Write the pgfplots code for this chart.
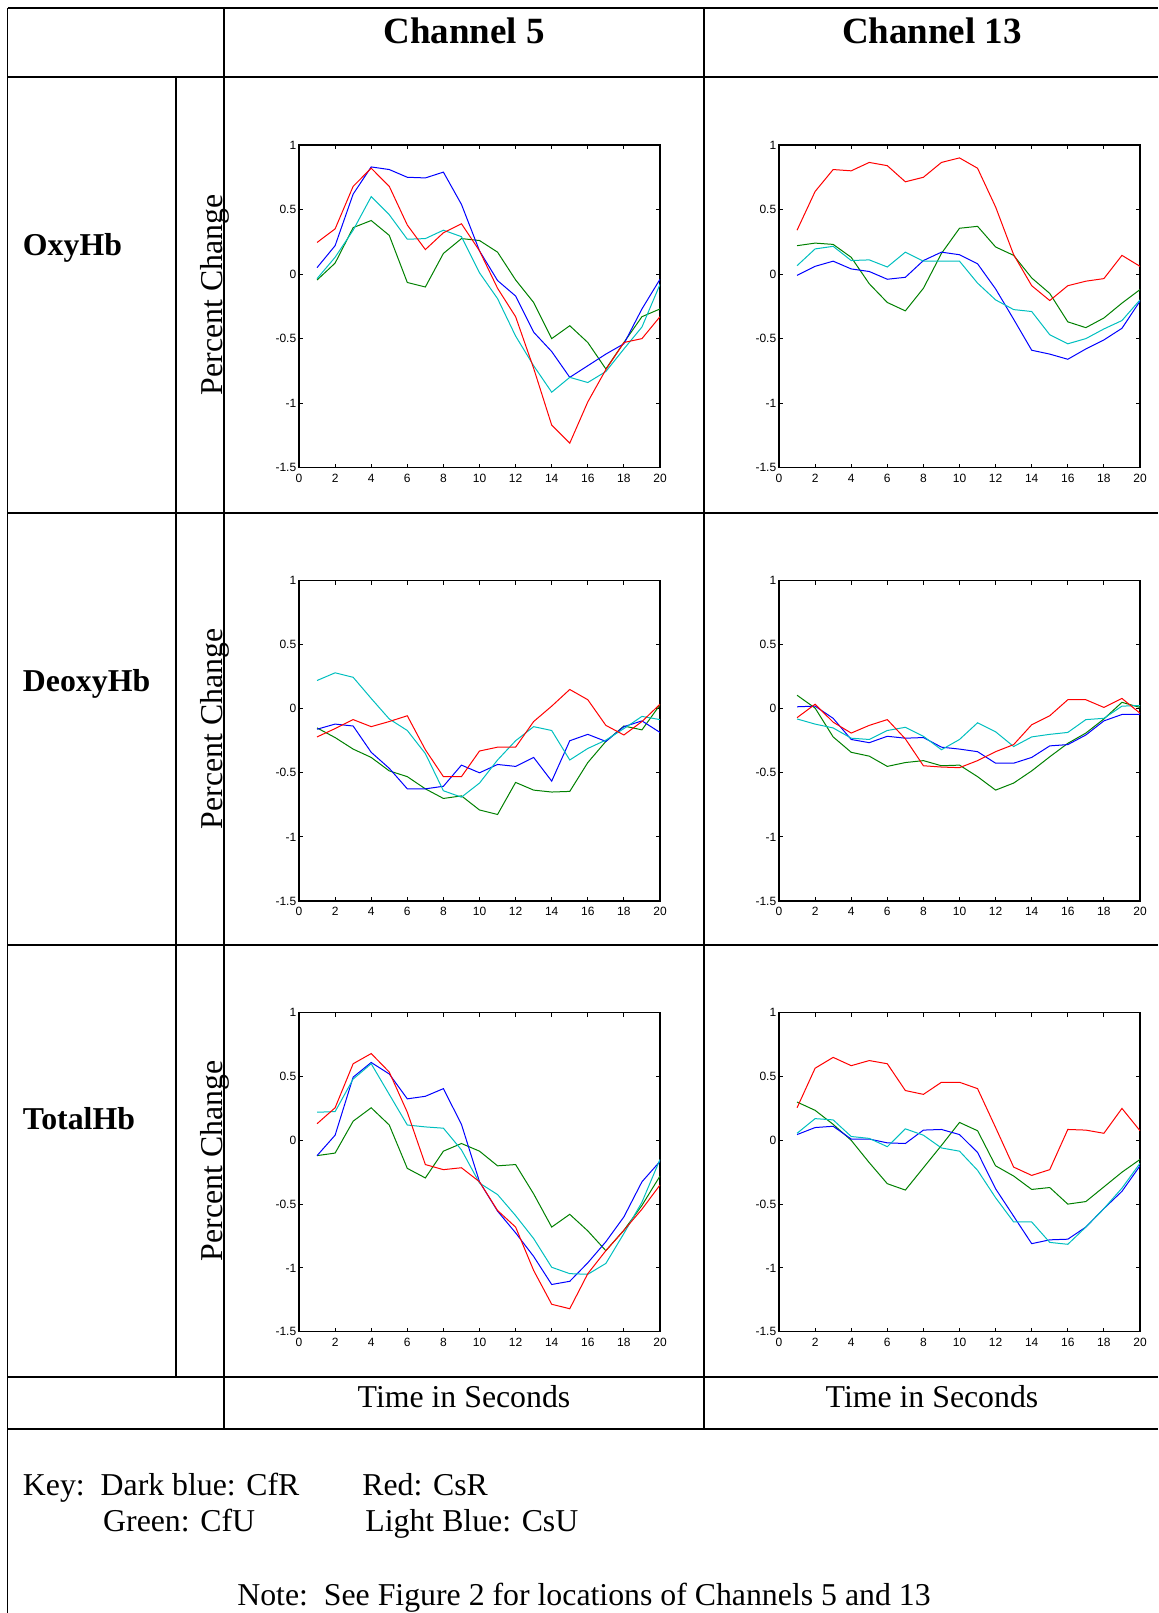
\documentclass[border=0pt]{standalone}
\usepackage{pgfplots}
\pgfplotsset{compat=1.18}
\usepackage{pgfplotstable}
\usepackage{fontspec}
\setmainfont{Liberation Serif}
\newfontfamily\ticksans{Liberation Sans}

\definecolor{mblue}{rgb}{0,0,1}
\definecolor{mred}{rgb}{1,0,0}
\definecolor{mgreen}{rgb}{0,0.5,0}
\definecolor{mcyan}{rgb}{0,0.75,0.75}

% columns: t, B = CfR (dark blue), R = CsR (red), C = CsU (light blue), G = CfU (green)
\pgfplotstableread{
t B R C G
1 0.05 0.245 -0.035 -0.046
2 0.22 0.35 0.13 0.085
3 0.62 0.68 0.34 0.36
4 0.83 0.82 0.60 0.415
5 0.81 0.68 0.46 0.30
6 0.75 0.38 0.27 -0.065
7 0.745 0.19 0.275 -0.10
8 0.79 0.32 0.34 0.16
9 0.54 0.39 0.29 0.275
10 0.18 0.18 0.01 0.26
11 -0.05 -0.11 -0.19 0.17
12 -0.17 -0.33 -0.48 -0.045
13 -0.45 -0.73 -0.71 -0.22
14 -0.60 -1.17 -0.915 -0.50
15 -0.80 -1.31 -0.80 -0.40
16 -0.71 -0.99 -0.84 -0.53
17 -0.62 -0.74 -0.755 -0.735
18 -0.54 -0.53 -0.58 -0.53
19 -0.27 -0.50 -0.41 -0.33
20 -0.04 -0.33 -0.08 -0.27
}\oxyA
\pgfplotstableread{
t B R C G
1 -0.01 0.34 0.065 0.22
2 0.06 0.64 0.195 0.24
3 0.10 0.81 0.215 0.23
4 0.04 0.80 0.105 0.13
5 0.02 0.865 0.11 -0.075
6 -0.04 0.84 0.055 -0.22
7 -0.025 0.715 0.17 -0.285
8 0.105 0.75 0.10 -0.11
9 0.17 0.865 0.10 0.16
10 0.15 0.90 0.10 0.355
11 0.08 0.82 -0.07 0.37
12 -0.115 0.52 -0.20 0.21
13 -0.35 0.15 -0.275 0.145
14 -0.59 -0.09 -0.29 -0.03
15 -0.62 -0.205 -0.47 -0.15
16 -0.66 -0.09 -0.54 -0.37
17 -0.58 -0.055 -0.50 -0.415
18 -0.51 -0.035 -0.425 -0.34
19 -0.42 0.145 -0.36 -0.225
20 -0.21 0.06 -0.20 -0.12
}\oxyB
\pgfplotstableread{
t B R C G
1 -0.16 -0.22 0.22 -0.15
2 -0.12 -0.155 0.28 -0.225
3 -0.135 -0.085 0.245 -0.315
4 -0.34 -0.14 0.08 -0.38
5 -0.465 -0.10 -0.08 -0.485
6 -0.625 -0.055 -0.17 -0.53
7 -0.625 -0.32 -0.35 -0.625
8 -0.605 -0.53 -0.64 -0.70
9 -0.44 -0.53 -0.69 -0.68
10 -0.50 -0.33 -0.58 -0.79
11 -0.435 -0.30 -0.40 -0.825
12 -0.45 -0.30 -0.25 -0.575
13 -0.38 -0.10 -0.14 -0.635
14 -0.565 0.02 -0.17 -0.65
15 -0.25 0.15 -0.40 -0.645
16 -0.20 0.07 -0.31 -0.42
17 -0.255 -0.13 -0.245 -0.255
18 -0.14 -0.205 -0.155 -0.135
19 -0.095 -0.10 -0.06 -0.165
20 -0.185 0.035 -0.085 0.03
}\deoA
\pgfplotstableread{
t B R C G
1 0.015 -0.07 -0.08 0.105
2 0.02 0.035 -0.12 0.005
3 -0.075 -0.105 -0.15 -0.22
4 -0.24 -0.19 -0.23 -0.34
5 -0.265 -0.13 -0.24 -0.37
6 -0.215 -0.085 -0.17 -0.45
7 -0.23 -0.235 -0.145 -0.42
8 -0.225 -0.445 -0.215 -0.405
9 -0.30 -0.455 -0.32 -0.445
10 -0.315 -0.46 -0.24 -0.44
11 -0.335 -0.405 -0.11 -0.53
12 -0.425 -0.335 -0.18 -0.635
13 -0.425 -0.28 -0.295 -0.58
14 -0.38 -0.125 -0.22 -0.485
15 -0.29 -0.055 -0.20 -0.375
16 -0.28 0.07 -0.185 -0.27
17 -0.205 0.07 -0.085 -0.19
18 -0.095 0.01 -0.075 -0.08
19 -0.045 0.08 0.02 0.05
20 -0.045 -0.035 0.025 0.01
}\deoB
\pgfplotstableread{
t B R C G
1 -0.12 0.13 0.22 -0.12
2 0.04 0.255 0.225 -0.10
3 0.495 0.60 0.48 0.15
4 0.61 0.68 0.60 0.255
5 0.52 0.535 0.36 0.12
6 0.325 0.22 0.12 -0.22
7 0.345 -0.19 0.105 -0.295
8 0.405 -0.23 0.095 -0.085
9 0.125 -0.215 -0.075 -0.025
10 -0.325 -0.325 -0.335 -0.085
11 -0.555 -0.55 -0.425 -0.20
12 -0.725 -0.68 -0.59 -0.19
13 -0.91 -1.02 -0.77 -0.42
14 -1.13 -1.285 -0.995 -0.68
15 -1.105 -1.32 -1.045 -0.58
16 -0.96 -1.045 -1.05 -0.71
17 -0.795 -0.865 -0.965 -0.865
18 -0.60 -0.705 -0.73 -0.705
19 -0.325 -0.54 -0.485 -0.51
20 -0.165 -0.35 -0.15 -0.28
}\totA
\pgfplotstableread{
t B R C G
1 0.045 0.255 0.055 0.30
2 0.10 0.565 0.17 0.235
3 0.11 0.65 0.16 0.125
4 0.01 0.585 0.03 0.0
5 0.01 0.625 0.015 -0.175
6 -0.02 0.60 -0.05 -0.34
7 -0.025 0.39 0.09 -0.39
8 0.08 0.36 0.04 -0.215
9 0.085 0.455 -0.06 -0.04
10 0.045 0.455 -0.085 0.14
11 -0.095 0.405 -0.235 0.075
12 -0.38 0.10 -0.45 -0.20
13 -0.595 -0.21 -0.64 -0.28
14 -0.81 -0.275 -0.64 -0.385
15 -0.78 -0.23 -0.80 -0.37
16 -0.775 0.085 -0.815 -0.50
17 -0.68 0.08 -0.68 -0.48
18 -0.535 0.055 -0.535 -0.365
19 -0.40 0.25 -0.375 -0.25
20 -0.20 0.075 -0.18 -0.15
}\totB

\pgfplotsset{
  mplot/.style={
    scale only axis, width=180.5pt, anchor=north west,
    xmin=0, xmax=20, ymin=-1.5, ymax=1,
    xtick={0,2,4,6,8,10,12,14,16,18,20},
    xticklabels={0,2,4,6,8,10,12,14,16,18,20},
    ytick={-1.5,-1,-0.5,0,0.5,1},
    yticklabels={-1.5,-1,-0.5,0,0.5,1},
    tick align=inside, major tick length=2pt,
    axis line style={line width=0.6pt, black},
    every tick/.style={black, line width=0.5pt},
    tick label style={font=\ticksans\fontsize{6}{7}\selectfont, inner sep=1.2pt},
    xticklabel style={yshift=-1.8pt},
    every axis plot/.append style={line width=0.5pt, no markers},
  }
}
\newcommand{\fourlines}[1]{%
  \addplot[mgreen] table[x=t,y=G]{#1};
  \addplot[mblue] table[x=t,y=B]{#1};
  \addplot[mcyan] table[x=t,y=C]{#1};
  \addplot[mred] table[x=t,y=R]{#1};
}

\begin{document}
\begin{tikzpicture}
\useasboundingbox (0,0) rectangle (579pt,-806.5pt);

% panels
\begin{axis}[mplot, at={(149.5pt,-72.5pt)}, height=161.35pt]
\fourlines{\oxyA}
\end{axis}
\begin{axis}[mplot, at={(389.5pt,-72.5pt)}, height=161.35pt]
\fourlines{\oxyB}
\end{axis}
\begin{axis}[mplot, at={(149.5pt,-290.25pt)}, height=160.25pt]
\fourlines{\deoA}
\end{axis}
\begin{axis}[mplot, at={(389.5pt,-290.25pt)}, height=160.25pt]
\fourlines{\deoB}
\end{axis}
\begin{axis}[mplot, at={(149.5pt,-506.35pt)}, height=159.5pt]
\fourlines{\totA}
\end{axis}
\begin{axis}[mplot, at={(389.5pt,-506.35pt)}, height=159.5pt]
\fourlines{\totB}
\end{axis}

% table lines
\begin{scope}[line width=0.85pt]
\draw (3.75pt,-806.5pt) -- (3.75pt,-4pt);
\draw (3.75pt,-4pt) -- (579pt,-4pt);
\draw (3.75pt,-38.5pt) -- (579pt,-38.5pt);
\draw (3.75pt,-256.5pt) -- (579pt,-256.5pt);
\draw (3.75pt,-472.5pt) -- (579pt,-472.5pt);
\draw (3.75pt,-688.5pt) -- (579pt,-688.5pt);
\draw (3.75pt,-714.5pt) -- (579pt,-714.5pt);
\draw (88pt,-38.5pt) -- (88pt,-688.5pt);
\draw (112pt,-4pt) -- (112pt,-714.5pt);
\draw (352pt,-4pt) -- (352pt,-714.5pt);
\end{scope}

% headers
\begin{scope}[every node/.style={inner sep=0pt}]
\node[anchor=base, font=\bfseries\fontsize{18.5}{22}\selectfont] at (232pt,-21.75pt) {Channel 5};
\node[anchor=base, font=\bfseries\fontsize{18.5}{22}\selectfont] at (466pt,-21.75pt) {Channel 13};

\node[anchor=base west, font=\bfseries\fontsize{15.9}{19}\selectfont] at (11.3pt,-127.5pt) {OxyHb};
\node[anchor=base west, font=\bfseries\fontsize{15.9}{19}\selectfont] at (11.3pt,-345.5pt) {DeoxyHb};
\node[anchor=base west, font=\bfseries\fontsize{15.9}{19}\selectfont] at (11.3pt,-564.75pt) {TotalHb};

\node[rotate=90, anchor=base, font=\fontsize{15.9}{19}\selectfont] at (111pt,-147.5pt) {Percent Change};
\node[rotate=90, anchor=base, font=\fontsize{15.9}{19}\selectfont] at (111pt,-364.5pt) {Percent Change};
\node[rotate=90, anchor=base, font=\fontsize{15.9}{19}\selectfont] at (111pt,-580.5pt) {Percent Change};

\node[anchor=base, font=\fontsize{15.9}{19}\selectfont] at (232pt,-703.5pt) {Time in Seconds};
\node[anchor=base, font=\fontsize{15.9}{19}\selectfont] at (466pt,-703.5pt) {Time in Seconds};

\node[anchor=base west, font=\fontsize{15.9}{19}\selectfont] at (11.3pt,-747.75pt) {Key:\ \ Dark blue: CfR};
\node[anchor=base west, font=\fontsize{15.9}{19}\selectfont] at (181pt,-747.75pt) {Red: CsR};
\node[anchor=base west, font=\fontsize{15.9}{19}\selectfont] at (51.4pt,-765.75pt) {Green: CfU};
\node[anchor=base west, font=\fontsize{15.9}{19}\selectfont] at (182.5pt,-765.75pt) {Light Blue: CsU};
\node[anchor=base, font=\fontsize{15.9}{19}\selectfont] at (292pt,-802.75pt) {Note:\ \ See Figure 2 for locations of Channels 5 and 13};
\end{scope}
\end{tikzpicture}
\end{document}
